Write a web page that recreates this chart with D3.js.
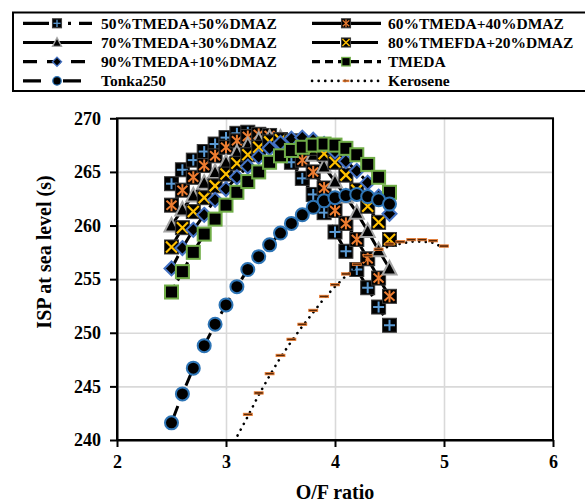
<!DOCTYPE html>
<html lang="en">
<head>
<meta charset="UTF-8">
<title>ISP vs O/F ratio</title>
<script src="https://cdnjs.cloudflare.com/ajax/libs/d3/7.8.5/d3.min.js"></script>
<style>
  body { margin: 0; background: #fff; }
  text { font-family: "Liberation Serif", "Times New Roman", serif; font-weight: bold; fill: #000; }
</style>
</head>
<body>
<svg id="chart"></svg>
<script>
// O/F ratios used by the propellant blends
var ofRatio = [2.5, 2.6, 2.7, 2.8, 2.9, 3.0, 3.1, 3.2, 3.3, 3.4, 3.5, 3.6, 3.7, 3.8, 3.9, 4.0, 4.1, 4.2, 4.3, 4.4, 4.5]

var isp50 = [263.9, 265.2, 266.1, 266.9, 267.6, 268.2, 268.6, 268.7, 268.5, 268.0, 267.1, 265.9, 264.4, 262.9, 261.2, 259.4, 257.6, 255.9, 254.2, 252.4, 250.7]
var isp60 = [261.9, 263.3, 264.5, 265.6, 266.5, 267.3, 267.9, 268.3, 268.5, 268.4, 268.0, 267.2, 266.1, 265.0, 263.5, 261.4, 260.2, 258.7, 256.9, 255.1, 253.4]
var isp70 = [260.0, 261.5, 262.8, 264.0, 265.0, 265.9, 266.8, 267.5, 268.0, 268.2, 268.2, 267.9, 267.4, 266.6, 265.5, 264.1, 262.7, 261.2, 259.5, 257.7, 256.0]
var isp80 = [258.0, 259.8, 261.3, 262.6, 263.7, 264.8, 265.8, 266.6, 267.3, 267.8, 268.0, 267.9, 267.6, 267.2, 266.7, 265.9, 264.7, 263.3, 261.8, 260.3, 258.7]
var isp90 = [256.0, 257.9, 259.6, 261.0, 262.4, 263.4, 264.5, 265.5, 266.4, 267.2, 267.7, 268.1, 268.2, 268.0, 267.6, 266.9, 266.0, 265.1, 264.0, 262.7, 261.1]
var ispTmeda = [253.8, 255.7, 257.5, 259.2, 260.6, 261.9, 263.1, 264.1, 265.0, 265.9, 266.5, 267.0, 267.3, 267.5, 267.6, 267.5, 267.2, 266.6, 265.7, 264.5, 263.1]
var ispTonka = [241.6, 244.3, 246.7, 248.8, 250.8, 252.6, 254.3, 255.9, 257.1, 258.2, 259.3, 260.2, 261.0, 261.7, 262.3, 262.6, 262.8, 262.9, 262.7, 262.4, 262.0]

var keroRatio = [3.0, 3.1, 3.2, 3.3, 3.4, 3.5, 3.6, 3.7, 3.8, 3.9, 4.0, 4.1, 4.2, 4.3, 4.4, 4.5, 4.6, 4.7, 4.8, 4.9, 5.0]
var ispKero = [238.2, 240.3, 242.2, 244.2, 246.0, 247.7, 249.2, 250.6, 251.9, 253.2, 254.3, 255.3, 256.2, 257.0, 257.6, 258.1, 258.3, 258.5, 258.5, 258.4, 257.9]

var xTicks = [2, 3, 4, 5, 6]
var yTicks = [240, 245, 250, 255, 260, 265, 270]

var W = 585, H = 504
var pLeft = 117, pRight = 553, pTop = 118.3, pBottom = 440

var svg = d3.select("#chart").attr("width", W).attr("height", H)

var x = d3.scaleLinear().domain([2, 6]).range([pLeft, pRight])
var y = d3.scaleLinear().domain([240, 270]).range([pBottom, pTop])

function zip(xs, ys) {
  return xs.map(function(v, i) { return [v, ys[i]] })
}

var series = [
  { name: "50%TMEDA+50%DMAZ", pts: zip(ofRatio, isp50), mark: "plus", dash: "26,8,3,8,3,8" },
  { name: "60%TMEDA+40%DMAZ", pts: zip(ofRatio, isp60), mark: "star", dash: null },
  { name: "70%TMEDA+30%DMAZ", pts: zip(ofRatio, isp70), mark: "tri", dash: null },
  { name: "80%TMEFDA+20%DMAZ", pts: zip(ofRatio, isp80), mark: "x", dash: "28,10" },
  { name: "90%TMEDA+10%DMAZ", pts: zip(ofRatio, isp90), mark: "diamond", dash: "14,10" },
  { name: "TMEDA", pts: zip(ofRatio, ispTmeda), mark: "square", dash: "8,5" },
  { name: "Tonka250", pts: zip(ofRatio, ispTonka), mark: "circle", dash: "18,22" },
  { name: "Kerosene", pts: zip(keroRatio, ispKero), mark: "dash", dash: "0.1,6.5" }
]

// marker shapes, centred on 0,0
function drawMarker(g, type, s) {
  function line(x1, y1, x2, y2, col, w) {
    g.append("line").attr("x1", x1 * s).attr("y1", y1 * s).attr("x2", x2 * s).attr("y2", y2 * s)
      .attr("stroke", col).attr("stroke-width", w)
  }
  if (type == "plus" || type == "star" || type == "x") {
    g.append("rect").attr("x", -7 * s).attr("y", -7 * s).attr("width", 14 * s).attr("height", 14 * s)
      .attr("fill", "#000").attr("stroke", "#3a3a3a").attr("stroke-width", 1)
  }
  if (type == "plus") {
    line(-5.5, 0, 5.5, 0, "#5b9bd5", 2 * s)
    line(0, -5.5, 0, 5.5, "#5b9bd5", 2 * s)
  } else if (type == "star") {
    line(0, -6, 0, 6, "#ed7d31", 2 * s)
    line(-5, -4.5, 5, 4.5, "#ed7d31", 2 * s)
    line(-5, 4.5, 5, -4.5, "#ed7d31", 2 * s)
  } else if (type == "x") {
    line(-5.5, -5.5, 5.5, 5.5, "#ffc000", 2.2 * s)
    line(-5.5, 5.5, 5.5, -5.5, "#ffc000", 2.2 * s)
  } else if (type == "tri") {
    g.append("path").attr("d", "M0," + (-7.5 * s) + "L" + (7 * s) + "," + (6 * s) + "L" + (-7 * s) + "," + (6 * s) + "Z")
      .attr("fill", "#000").attr("stroke", "#a5a5a5").attr("stroke-width", 2 * s)
  } else if (type == "diamond") {
    g.append("path").attr("d", "M0," + (-7 * s) + "L" + (7 * s) + ",0L0," + (7 * s) + "L" + (-7 * s) + ",0Z")
      .attr("fill", "#000").attr("stroke", "#4472c4").attr("stroke-width", 2 * s)
  } else if (type == "square") {
    g.append("rect").attr("x", -6.5 * s).attr("y", -6.5 * s).attr("width", 13 * s).attr("height", 13 * s)
      .attr("fill", "#000").attr("stroke", "#70ad47").attr("stroke-width", 2 * s)
  } else if (type == "circle") {
    g.append("circle").attr("r", 6.5 * s)
      .attr("fill", "#000").attr("stroke", "#2e75b6").attr("stroke-width", 2 * s)
  } else if (type == "dash") {
    g.append("rect").attr("x", -4.5 * s).attr("y", -1.2 * s).attr("width", 9 * s).attr("height", 2.4 * s)
      .attr("fill", "#5a2a08").attr("stroke", "#ed7d31").attr("stroke-width", 0.8)
  }
}

// gridlines
svg.append("g")
  .attr("transform", "translate(0," + pBottom + ")")
  .call(d3.axisBottom(x).tickValues(xTicks).tickSize(-(pBottom - pTop)).tickFormat(""))
  .call(function(g) { g.select(".domain").remove() })
  .selectAll("line").attr("stroke", "#d9d9d9").attr("stroke-width", 1.6)

svg.append("g")
  .attr("transform", "translate(" + pLeft + ",0)")
  .call(d3.axisLeft(y).tickValues(yTicks).tickSize(-(pRight - pLeft)).tickFormat(""))
  .call(function(g) { g.select(".domain").remove() })
  .selectAll("line").attr("stroke", "#d9d9d9").attr("stroke-width", 1.6)

// plot frame
svg.append("rect")
  .attr("x", pLeft).attr("y", pTop).attr("width", pRight - pLeft).attr("height", pBottom - pTop)
  .attr("fill", "none").attr("stroke", "#000").attr("stroke-width", 2)

svg.append("clipPath").attr("id", "plotclip")
  .append("rect").attr("x", pLeft).attr("y", pTop).attr("width", pRight - pLeft).attr("height", pBottom - pTop)

var lineGen = d3.line().x(function(d) { return x(d[0]) }).y(function(d) { return y(d[1]) })

// series: line then markers, in legend order
series.forEach(function(s) {
  var isKero = s.mark == "dash"
  svg.append("path")
    .datum(s.pts)
    .attr("clip-path", "url(#plotclip)")
    .attr("d", lineGen)
    .attr("fill", "none")
    .attr("stroke", "#000")
    .attr("stroke-width", isKero ? 2.6 : 3)
    .attr("stroke-linecap", isKero ? "round" : "butt")
    .attr("stroke-dasharray", s.dash)

  svg.append("g").selectAll("g")
    .data(s.pts.filter(function(d) { return d[1] >= 241 }))
    .enter().append("g")
    .attr("transform", function(d) { return "translate(" + x(d[0]) + "," + (y(d[1]) - (isKero ? 2 : 0)) + ")" })
    .each(function() { drawMarker(d3.select(this), s.mark, 1) })
})

// axes
var xAxis = svg.append("g")
  .attr("transform", "translate(0," + pBottom + ")")
  .call(d3.axisBottom(x).tickValues(xTicks).tickFormat(d3.format("d")).tickSize(7).tickSizeOuter(0).tickPadding(8))
xAxis.select(".domain").attr("stroke-width", 2)
xAxis.selectAll(".tick line").attr("stroke-width", 2)
xAxis.selectAll("text").style("font-size", "18px").attr("font-family", null)

var yAxis = svg.append("g")
  .attr("transform", "translate(" + pLeft + ",0)")
  .call(d3.axisLeft(y).tickValues(yTicks).tickSize(7).tickSizeOuter(0).tickPadding(9))
yAxis.select(".domain").attr("stroke-width", 2)
yAxis.selectAll(".tick line").attr("stroke-width", 2)
yAxis.selectAll("text").style("font-size", "18px").attr("font-family", null)

svg.append("text")
  .attr("x", (pLeft + pRight) / 2).attr("y", 499)
  .attr("text-anchor", "middle")
  .style("font-size", "20px")
  .text("O/F ratio")

svg.append("text")
  .attr("transform", "translate(51,252) rotate(-90)")
  .attr("text-anchor", "middle")
  .style("font-size", "20px")
  .text("ISP at sea level (s)")

// legend
var legend = svg.append("g")
legend.append("rect")
  .attr("x", 13).attr("y", 12.5).attr("width", 585).attr("height", 78.5)
  .attr("fill", "#fff").attr("stroke", "#000").attr("stroke-width", 2)

var legCols = [{ x1: 23, x2: 92, mx: 57, tx: 101 }, { x1: 312, x2: 381, mx: 346, tx: 388 }]

series.forEach(function(s, i) {
  var c = legCols[i % 2]
  var ry = 23.3 + Math.floor(i / 2) * 19.2
  var isKero = s.mark == "dash"
  legend.append("line")
    .attr("x1", c.x1).attr("x2", c.x2).attr("y1", ry).attr("y2", ry)
    .attr("stroke", "#000")
    .attr("stroke-width", isKero ? 2.6 : 3.2)
    .attr("stroke-linecap", isKero ? "round" : "butt")
    .attr("stroke-dasharray", s.dash)
  var m = legend.append("g").attr("transform", "translate(" + c.mx + "," + ry + ")")
  drawMarker(m, s.mark, 0.65)
  legend.append("text")
    .attr("x", c.tx).attr("y", ry + 5.2)
    .style("font-size", "15.5px")
    .text(s.name)
})
</script>
</body>
</html>
